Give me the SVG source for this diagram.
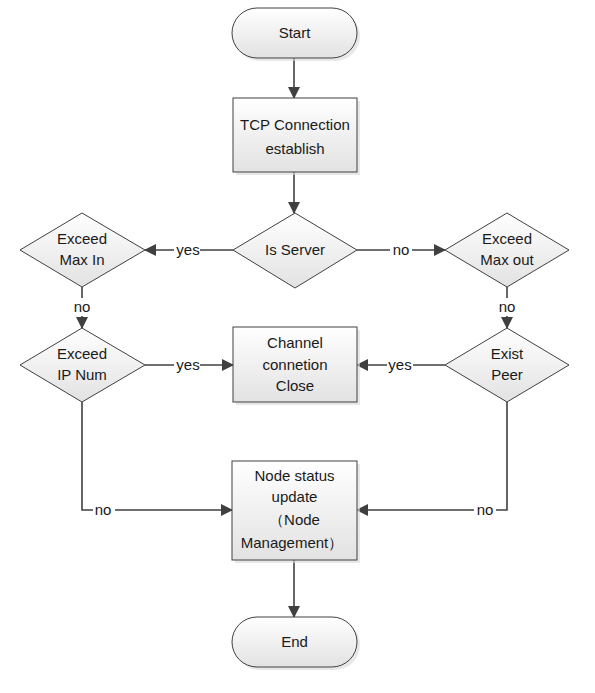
<svg xmlns="http://www.w3.org/2000/svg" width="595" height="693" viewBox="0 0 595 693">
<style>
.shape{fill:url(#g);stroke:#404040;stroke-width:1}
.shadow{fill:#d8d8d8;stroke:none;opacity:0.6}
.t{font-family:"Liberation Sans",Arial,sans-serif;font-size:15px;fill:#1a1a1a;text-anchor:middle}
.c{fill:none;stroke:#404040;stroke-width:1.6}
.lb{fill:#ffffff}
</style>
<defs>
<linearGradient id="g" x1="0" y1="0" x2="0" y2="1">
<stop offset="0" stop-color="#ffffff"/>
<stop offset="1" stop-color="#e2e2e2"/>
</linearGradient>
<marker id="a" markerUnits="userSpaceOnUse" markerWidth="12" markerHeight="12" refX="11" refY="6" orient="auto" viewBox="0 0 12 12">
<path d="M0,0 L12,6 L0,12 z" fill="#404040"/>
</marker>
</defs>

<g id="connectors">
<line class="c" x1="294" y1="58" x2="294" y2="98" marker-end="url(#a)"/>
<line class="c" x1="294" y1="172" x2="294" y2="213" marker-end="url(#a)"/>
<line class="c" x1="233" y1="250" x2="145" y2="250" marker-end="url(#a)"/>
<line class="c" x1="357" y1="250" x2="445" y2="250" marker-end="url(#a)"/>
<line class="c" x1="82" y1="287" x2="82" y2="328" marker-end="url(#a)"/>
<line class="c" x1="507" y1="287" x2="507" y2="328" marker-end="url(#a)"/>
<line class="c" x1="145" y1="365" x2="233" y2="365" marker-end="url(#a)"/>
<line class="c" x1="445" y1="365" x2="357" y2="365" marker-end="url(#a)"/>
<polyline class="c" points="82,402 82,510 232,510" marker-end="url(#a)"/>
<polyline class="c" points="507,402 507,510 357,510" marker-end="url(#a)"/>
<line class="c" x1="294" y1="560" x2="294" y2="617" marker-end="url(#a)"/>
<rect class="lb" x="174" y="242" width="26" height="16"/>
<text class="t" x="188" y="255">yes</text>
<rect class="lb" x="390" y="242" width="22" height="16"/>
<text class="t" x="401" y="255">no</text>
<rect class="lb" x="72" y="298" width="22" height="18"/>
<text class="t" x="82" y="312">no</text>
<rect class="lb" x="497" y="298" width="22" height="18"/>
<text class="t" x="507" y="312">no</text>
<rect class="lb" x="174" y="357" width="26" height="16"/>
<text class="t" x="188" y="370">yes</text>
<rect class="lb" x="387" y="357" width="26" height="16"/>
<text class="t" x="400" y="370">yes</text>
<rect class="lb" x="93" y="502" width="22" height="16"/>
<text class="t" x="103" y="515">no</text>
<rect class="lb" x="474" y="502" width="22" height="16"/>
<text class="t" x="485" y="515">no</text>
</g>

<g id="start">
<rect class="shadow" x="235" y="11" width="125" height="50" rx="25"/>
<rect class="shape" x="232" y="8" width="125" height="50" rx="25"/>
<text class="t" x="294.5" y="38">Start</text>
</g>

<g id="tcp">
<rect class="shadow" x="236" y="101" width="124" height="74"/>
<rect class="shape" x="233" y="98" width="124" height="74"/>
<text class="t" x="295" y="130">TCP Connection</text>
<text class="t" x="295" y="154">establish</text>
</g>

<g id="isserver">
<polygon class="shape" points="295,213 357,250 295,288 233,250"/>
<text class="t" x="295" y="255">Is Server</text>
</g>

<g id="maxin">
<polygon class="shape" points="82,213 145,250 82,287 20,250"/>
<text class="t" x="82" y="244">Exceed</text>
<text class="t" x="82" y="265">Max In</text>
</g>

<g id="maxout">
<polygon class="shape" points="507,213 569,250 507,287 445,250"/>
<text class="t" x="507" y="244">Exceed</text>
<text class="t" x="507" y="265">Max out</text>
</g>

<g id="ipnum">
<polygon class="shape" points="82,328 145,365 82,402 20,365"/>
<text class="t" x="82" y="359">Exceed</text>
<text class="t" x="82" y="380">IP Num</text>
</g>

<g id="existpeer">
<polygon class="shape" points="507,328 569,365 507,402 445,365"/>
<text class="t" x="507" y="359">Exist</text>
<text class="t" x="507" y="380">Peer</text>
</g>

<g id="channel">
<rect class="shadow" x="236" y="330" width="124" height="75"/>
<rect class="shape" x="233" y="327" width="124" height="75"/>
<text class="t" x="295" y="348">Channel</text>
<text class="t" x="295" y="370">connetion</text>
<text class="t" x="295" y="391">Close</text>
</g>

<g id="nodestatus">
<rect class="shadow" x="235" y="464" width="125" height="99"/>
<rect class="shape" x="232" y="461" width="125" height="99"/>
<text class="t" x="294.5" y="481">Node status</text>
<text class="t" x="294.5" y="502">update</text>
<text class="t" x="294.5" y="525">（Node</text>
<text class="t" x="292" y="548">Management）</text>
</g>

<g id="end">
<rect class="shadow" x="235" y="620" width="125" height="50" rx="25"/>
<rect class="shape" x="232" y="617" width="125" height="50" rx="25"/>
<text class="t" x="294.5" y="647">End</text>
</g>
</svg>
